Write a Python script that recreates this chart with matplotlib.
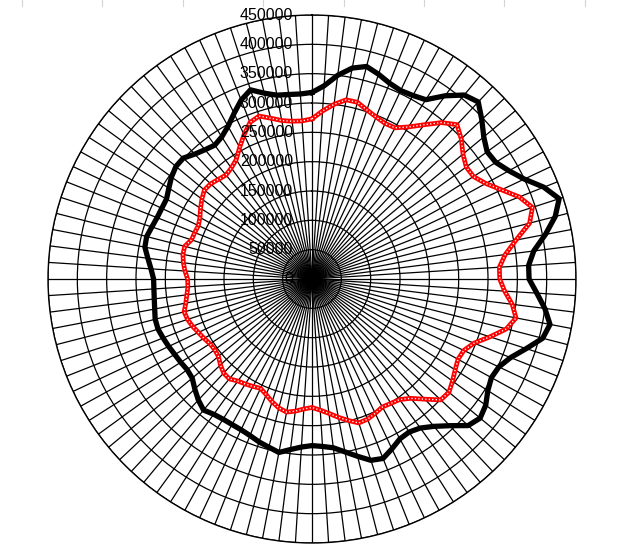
import numpy as np
import matplotlib
matplotlib.use("Agg")
import matplotlib.pyplot as plt
from matplotlib.lines import Line2D

plt.rcParams["font.family"] = ["Liberation Sans", "DejaVu Sans"]

# 100 categories, clockwise from the top (values in thousands)
N_CAT = 100
black_k = [318, 330, 350, 366, 374, 367, 359, 355, 357, 362,
           386, 407, 414, 397, 380, 369, 371, 383, 400, 425,
           443, 428, 405, 381, 370, 370, 384, 400, 413, 406,
           384, 364, 352, 349, 355, 366, 372, 365, 343, 326,
           314, 309, 311, 320, 329, 325, 312, 300, 290, 286,
           284, 287, 293, 301, 296, 292, 287, 284, 283, 283,
           285, 290, 283, 274, 265, 263, 265, 267, 270, 273,
           276, 276, 273, 271, 270, 270, 275, 282, 290, 291,
           287, 284, 283, 283, 289, 296, 301, 301, 292, 286,
           282, 287, 297, 312, 328, 339, 327, 319, 317, 316]
red_k = [273, 287, 300, 311, 311, 303, 297, 293, 294, 307,
         325, 346, 361, 349, 334, 325, 326, 338, 357, 380,
         395, 383, 354, 332, 320, 320, 329, 344, 354, 342,
         319, 297, 286, 284, 289, 296, 303, 301, 281, 264,
         254, 251, 249, 253, 257, 258, 249, 240, 231, 224,
         219, 222, 227, 231, 227, 220, 212, 206, 209, 212,
         215, 221, 220, 214, 207, 205, 206, 210, 214, 219,
         223, 225, 219, 215, 212, 212, 217, 221, 224, 224,
         216, 215, 214, 218, 225, 232, 238, 237, 233, 230,
         234, 241, 256, 272, 287, 292, 283, 275, 271, 270]
ring_vals = [0, 50000, 100000, 150000, 200000, 250000, 300000, 350000, 400000, 450000]

black = np.array(black_k) * 1000
red = np.array(red_k) * 1000
theta = np.linspace(0, 2 * np.pi, N_CAT, endpoint=False)
th = np.append(theta, 2 * np.pi)

W, H = 622, 548
fig = plt.figure(figsize=(W / 100, H / 100), dpi=100)
cx, cy, R = 312, 269, 264
ax = fig.add_axes([(cx - R) / W, (cy - R) / H, 2 * R / W, 2 * R / H], projection="polar")
ax.set_theta_zero_location("N")
ax.set_theta_direction(-1)
ax.set_ylim(0, 450000)
ax.set_xticks(theta)
ax.set_xticklabels([])
ax.set_yticks(ring_vals[1:])
ax.set_yticklabels([])
ax.set_axisbelow(True)
ax.grid(True, color="black", lw=0.9)
ax.spines["polar"].set_color("black")
ax.spines["polar"].set_linewidth(1.0)

ax.plot(th, np.append(black, black[0]), color="black", lw=3.8, solid_joinstyle="round", zorder=3)
ax.plot(th, np.append(red, red[0]), color="red", lw=3.4, solid_joinstyle="round", zorder=4)
ax.plot(th, np.append(red, red[0]), color="white", lw=1.0, dashes=(0.9, 1.6), zorder=5)

for v in ring_vals:
    ax.annotate(str(v), xy=(0, v), xytext=(-19, 0), textcoords="offset pixels",
                ha="right", va="center", fontsize=11.5, color="black",
                annotation_clip=False, zorder=6)

# sheet cell borders peeking above the chart
for x in [22, 102, 183, 263, 344, 424, 504, 585]:
    fig.add_artist(Line2D([x / W, x / W], [1 - 6 / H, 1], color="#d4d4d4", lw=0.8))

fig.savefig("out.png", dpi=100)
